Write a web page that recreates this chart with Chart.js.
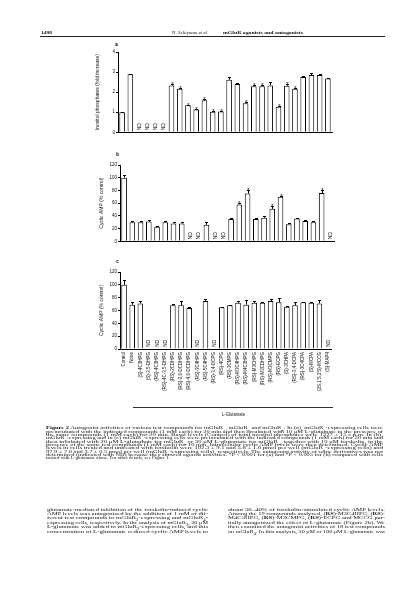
<!DOCTYPE html>
<html>
<head>
<meta charset="utf-8">
<script src="https://cdn.jsdelivr.net/npm/chart.js@4.4.1/dist/chart.umd.min.js"></script>
<style>
  html, body { margin: 0; padding: 0; background: #fff; }
  body { width: 413px; height: 599px; position: relative; overflow: hidden; color: #111; }
  canvas, svg { position: absolute; }
  .rule { position: absolute; height: 1px; background: #222; }
  .lbl { position: absolute; font-family: "Liberation Sans", sans-serif; font-weight: bold; font-size: 5px; line-height: 1; }
</style>
</head>
<body>
<div class="rule" style="left:40px;top:36px;width:345px;"></div>

<div class="lbl" style="left:115px;top:42px;">a</div>
<div class="lbl" style="left:116px;top:152px;">b</div>
<div class="lbl" style="left:116px;top:259px;">c</div>

<canvas id="panelA" width="241" height="96" style="left:93px;top:40px;"></canvas>
<canvas id="panelB" width="241" height="95" style="left:95px;top:150px;"></canvas>
<canvas id="panelC" width="241" height="139" style="left:95px;top:258px;"></canvas>

<div class="rule" style="left:133px;top:407px;width:200px;background:#333;"></div>
<svg id="page" width="413" height="599" style="left:0;top:0;" font-family="Liberation Serif, serif" fill="#111"></svg>

<script>
// Categories (x axis, shared by all three panels)
const categories = [
  "Control", "None", "(S)-4C3HPG", "(S)-3,5-DHPG", "(RS)-4C3HPG", "(RS)-4C-3,5-DHPG",
  "(RS)-2CDHPG", "(RS)-2,6-DCDHPG", "(RS)-4,6-DCDHPG", "(RS)-3C4HPG", "(RS)-5C4HPG",
  "(RS)-3,4-DCPG", "(RS)-4CPG", "(RS)-3CMPG", "(RS)-M3C4HPG", "(RS)-M4C3HPG",
  "(RS)-M3CHPG", "(RS)-M3CDHPG", "(RS)-M3CMPG", "(RS)-ECPG", "(S)-3CHPA",
  "(RS)-3,4-DCPA", "(RS)-3C4CPA", "(S)-MCPA", "(2S,1'S,2'S)-MCCG", "(S)-MAP4"
];

// (a) mGluR1 - inositol phosphates (fold increase), null = ND
const inositol = [1.0, 2.89, null, null, null, null, 2.33, 2.17, 1.35, 1.13, 1.6, 1.02, 1.03,
  2.62, 2.4, 1.45, 2.3, 2.3, 2.33, 1.27, 2.32, 2.17, 2.75, 2.85, 2.86, 2.68];
const inositolErr = [0.02, 0.03, 0, 0, 0, 0, 0.08, 0.05, 0.03, 0.04, 0.05, 0.02, 0.03,
  0.12, 0.06, 0.04, 0.04, 0.06, 0.16, 0.04, 0.08, 0.04, 0.03, 0.08, 0.05, 0.04];
const inositolStars = [6, 7, 8, 9, 10, 11, 12, 15, 16, 17, 19, 20, 21];
const inositolTicks = [0, 1, 2, 3, 4];

// (b) mGluR2 - cyclic AMP (% control)
const campR2 = [100, 30, 30, 31, 23, 30, 28, 28, null, null, 26, null, null,
  35, 58, 75, 35, 37, 51, 70, 27, 36, 32, 30, 76, null];
const campR2Err = [5, 2, 2, 3, 1, 2, 3, 2, 0, 0, 4, 0, 0,
  2, 2, 6, 2, 3, 5, 1, 1, 1, 1, 2, 5, 0];
const campR2Stars = [14, 15, 18, 19, 24];

// (c) mGluR4 - cyclic AMP (% control)
const campR4 = [100, 69, 71, null, null, null, 68, 68, 64, null, 75, null,
  65, 68, 72, 69, 72, 72, 75, 73, 66, 68, 73, 72, 71, null];
const campR4Err = [7, 4, 4, 0, 0, 0, 2, 7, 2, 0, 3, 0,
  1, 1, 3, 8, 3, 2, 3, 7, 1, 5, 1, 2, 5, 0];
const campR4Stars = [];
const campTicks = [0, 20, 40, 60, 80, 100, 120];

Chart.defaults.font.family = "'Liberation Sans', Arial, sans-serif";
Chart.defaults.color = "#111";

// error bars, asterisks and ND labels
const barMarks = {
  id: "barMarks",
  afterDatasetsDraw(chart, args, opts) {
    const { ctx } = chart;
    const x = chart.scales.x, y = chart.scales.y;
    const values = chart.data.datasets[0].data;
    ctx.save();
    ctx.strokeStyle = "#000";
    ctx.fillStyle = "#000";
    ctx.lineWidth = 1;
    values.forEach((v, i) => {
      const px = Math.round(x.getPixelForValue(i)) + 0.5;
      if (v === null) {
        ctx.save();
        ctx.translate(px, y.getPixelForValue(0) - 2);
        ctx.rotate(-Math.PI / 2);
        ctx.font = "5px 'Liberation Sans'";
        ctx.textBaseline = "middle";
        ctx.textAlign = "left";
        ctx.fillText("ND", 0, 0);
        ctx.restore();
        return;
      }
      const e = opts.err[i] || 0;
      const top = Math.round(y.getPixelForValue(v + e)) + 0.5;
      if (e > 0) {
        ctx.beginPath();
        ctx.moveTo(px, y.getPixelForValue(v));
        ctx.lineTo(px, top);
        ctx.moveTo(px - 1.5, top);
        ctx.lineTo(px + 1.5, top);
        ctx.stroke();
      }
      if (opts.star.includes(i)) {
        ctx.font = "6px 'Liberation Sans'";
        ctx.textAlign = "center";
        ctx.textBaseline = "alphabetic";
        ctx.fillText("*", px, top + 1);
      }
    });
    ctx.restore();
  },
};

function buildPanel(canvasId, values, errs, stars, ticks, yTitle, cfg) {
  return new Chart(document.getElementById(canvasId), {
    type: "bar",
    data: {
      labels: categories,
      datasets: [{
        data: values,
        backgroundColor: "#fff",
        borderColor: "#000",
        borderWidth: 1,
        barPercentage: 0.68,
        categoryPercentage: 1,
      }],
    },
    options: {
      responsive: false,
      animation: false,
      devicePixelRatio: 1,
      layout: { padding: { top: cfg.padTop, right: 2, bottom: cfg.padBottom, left: 0 } },
      plugins: {
        legend: { display: false },
        tooltip: { enabled: false },
        barMarks: { err: errs, star: stars },
      },
      scales: {
        x: {
          grid: { display: false, drawTicks: false },
          border: { display: true, color: "#000", width: 1 },
          ticks: {
            display: cfg.showLabels,
            autoSkip: false,
            minRotation: 90,
            maxRotation: 90,
            padding: 3,
            font: { size: 4.5 },
          },
          afterFit: (s) => { s.height = cfg.xHeight; },
        },
        y: {
          min: ticks[0],
          max: ticks[ticks.length - 1],
          afterBuildTicks: (s) => { s.ticks = ticks.map((v) => ({ value: v })); },
          grid: { display: true, drawOnChartArea: false, drawTicks: true, tickLength: 2, color: "#000" },
          border: { display: true, color: "#000", width: 1 },
          ticks: { padding: 1, font: { size: 4.5 } },
          title: {
            display: true,
            text: yTitle,
            font: { size: 5 },
            padding: { top: cfg.titlePad, bottom: 0 },
          },
          afterFit: (s) => { s.width = 25; },
        },
      },
    },
    plugins: [barMarks],
  });
}

buildPanel("panelA", inositol, inositolErr, inositolStars, inositolTicks,
  "Inositol phosphates (fold increase)",
  { padTop: 12, padBottom: 2, xHeight: 0, showLabels: false, titlePad: 2 });
buildPanel("panelB", campR2, campR2Err, campR2Stars, campTicks,
  "Cyclic AMP (% control)",
  { padTop: 15, padBottom: 2, xHeight: 0, showLabels: false, titlePad: 4 });
buildPanel("panelC", campR4, campR4Err, campR4Stars, campTicks,
  "Cyclic AMP (% control)",
  { padTop: 14, padBottom: 0, xHeight: 48, showLabels: true, titlePad: 4 });

// Page text (svg, each line stretched to its measured width)
function markup(s) {
  return s
    .replace(/<b>/g, '<tspan font-weight="bold">')
    .replace(/<i>/g, '<tspan font-style="italic">')
    .replace(/<sub>/g, '<tspan baseline-shift="sub" font-size="70%">')
    .replace(/<\/(b|i|sub)>/g, "</tspan>");
}
let svgText = "";
function line(s, x, base, size, width, family) {
  svgText += `<text x="${x}" y="${base}" font-size="${size}" textLength="${width}" lengthAdjust="spacingAndGlyphs"` +
    (family ? ` font-family="${family}"` : "") + `>${markup(s)}</text>`;
}

line("<b>1498</b>", 41, 34, 5, 11);
line("N. Sekiyama <i>et al</i>", 172, 34, 5, 35);
line("<b>mGluR agonists and antagonists</b>", 223, 34, 5, 80);
line("L-Glutamate", 222, 416, 4.5, 23, "Liberation Sans, sans-serif");

const captionLines = [
  "<b>Figure 2</b> Antagonist activities of various test compounds for mGluR<sub>1</sub>, mGluR<sub>2</sub> and mGluR<sub>4</sub>. In (a), mGluR<sub>1</sub>-expressing cells were",
  "preincubated with the indicated compounds (1 mM each) for 20 min and then incubated with 10 μM L-glutamate in the presence of",
  "the same compounds (1 mM each) for 20 min. Basal levels (Control) of total inositol phosphates were 1227 ± 15 c.p.m. In (b),",
  "mGluR<sub>2</sub>-expressing and in (c) mGluR<sub>4</sub>-expressing cells were preincubated with the indicated compounds (1 mM each) for 20 min and",
  "then incubated with 20 μM L-glutamate for mGluR<sub>2</sub> or 30 μM L-glutamate for mGluR<sub>4</sub>, together with 10 μM forskolin, in the",
  "presence of the same test compounds (1 mM each) for 10 min. Intracellular cyclic AMP levels were then determined. Cyclic AMP",
  "levels in cells treated and untreated with forskolin were 192.3 ± 9.1 and 5.8 ± 1.0 pmol per well (mGluR<sub>2</sub>-expressing cells) and",
  "97.9 ± 7.0 and 3.7 ± 0.5 pmol per well (mGluR<sub>4</sub>-expressing cells), respectively. The antagonist activity of some derivatives was not",
  "determined (indicated with ND) because they showed agonist activities. *P &lt; 0.001 for (a) and *P &lt; 0.005 for (b) compared with cells",
  "treated with L-glutamate alone. For other details, see Figure 1.",
];
captionLines.forEach((s, i) => {
  const last = i === captionLines.length - 1;
  line(s, 46, 429.3 + i * 3.33, 3.7, last ? 124 : 337);
});

const leftLines = [
  "glutamate-mediated inhibition of the forskolin-induced cyclic",
  "AMP levels was antagonized by the addition of 1 mM of dif-",
  "ferent test compounds to mGluR<sub>2</sub>-expressing and mGluR<sub>4</sub>-",
  "expressing cells, respectively. In the analysis of mGluR<sub>2</sub>, 20 μM",
  "L-glutamate was added to mGluR<sub>2</sub>-expressing cells, and this",
  "concentration of L-glutamate reduced cyclic AMP levels to",
];
leftLines.forEach((s, i) => line(s, 47, 510.6 + i * 4.4, 4.6, 161));

const rightLines = [
  "about 30–40% of forskolin-stimulated cyclic AMP levels.",
  "Among the 19 compounds analyzed, (<b>RS</b>)-M3C4HPG, (<b>RS</b>)-",
  "M4C3HPG, (<b>RS</b>)-M3CMPG, (<b>RS</b>)-ECPG and MCCG par-",
  "tially antagonized the effect of L-glutamate (Figure 2b). We",
  "then examined the antagonist activities of 18 test compounds",
  "on mGluR<sub>4</sub>. In this analysis, 30 μM or 100 μM L-glutamate was",
];
rightLines.forEach((s, i) => line(s, 228, 510.6 + i * 4.4, 4.6, 157));

document.getElementById("page").innerHTML = svgText;
</script>
</body>
</html>
